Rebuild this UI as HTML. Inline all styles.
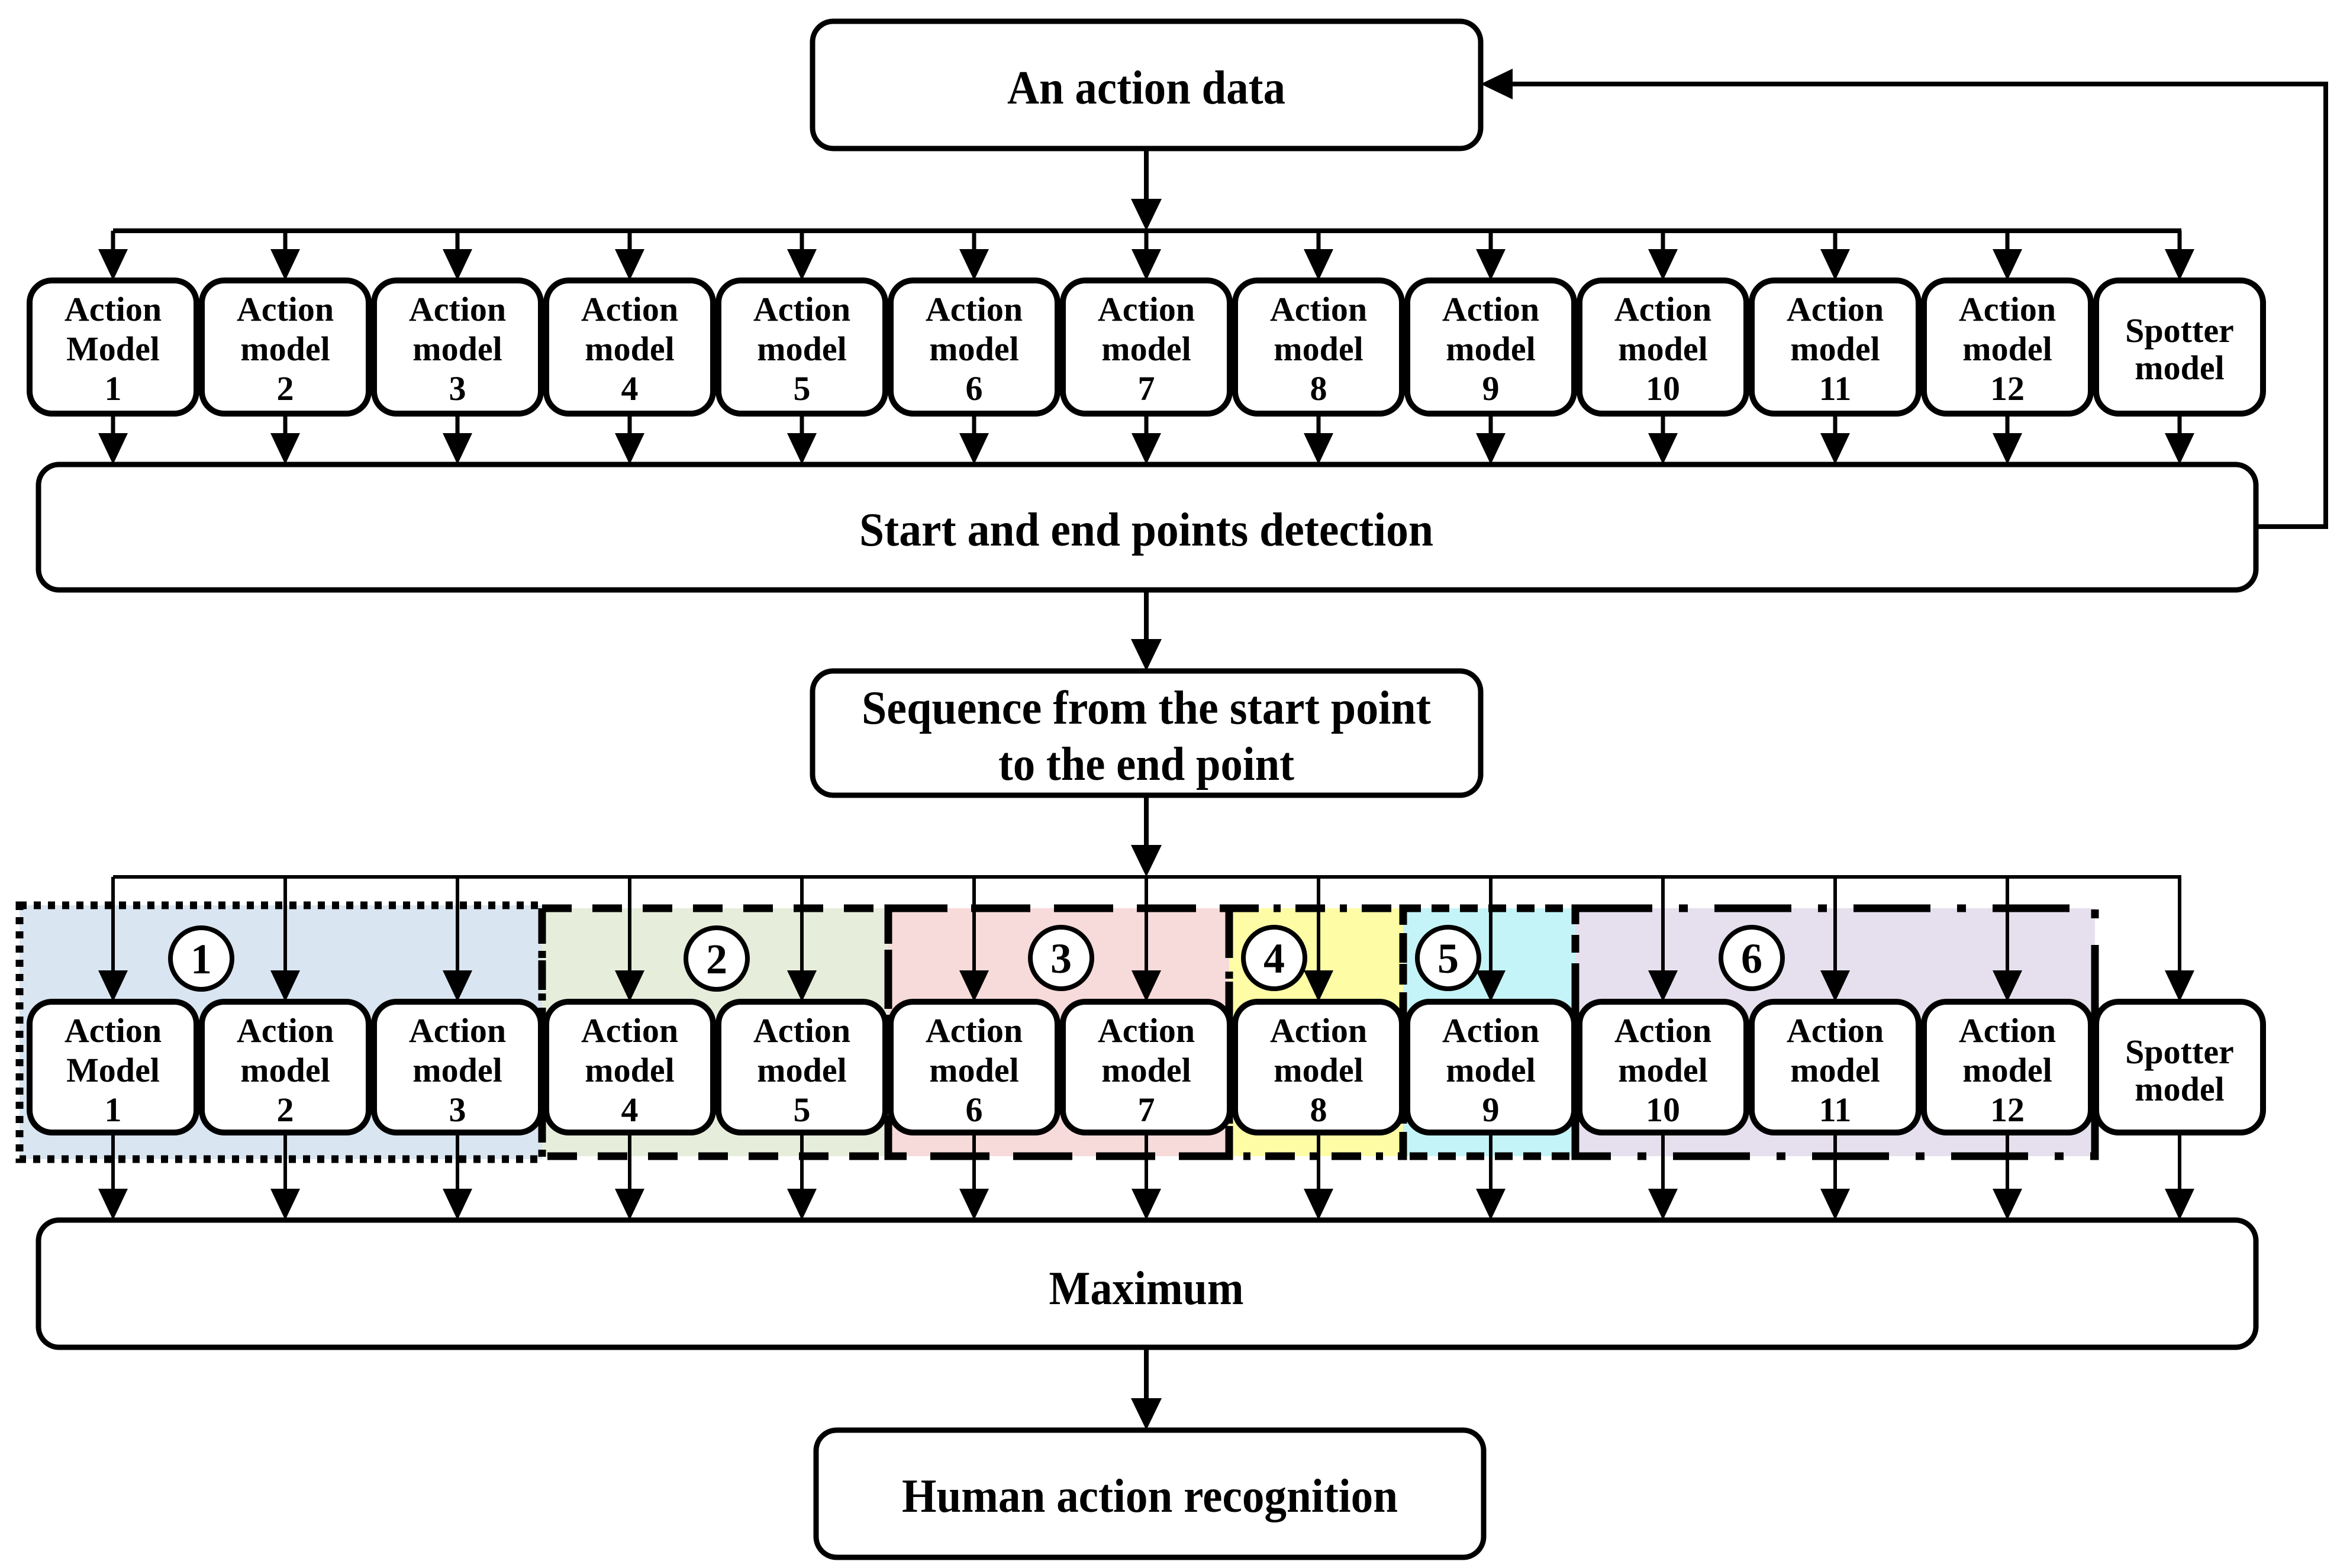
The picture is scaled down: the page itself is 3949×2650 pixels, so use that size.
<!DOCTYPE html>
<html><head><meta charset="utf-8"><style>
html,body{margin:0;padding:0;background:#fff;}
svg{display:block;}
text{font-family:"Liberation Serif",serif;font-weight:bold;fill:#000;}
</style></head><body>
<svg width="3949" height="2650" viewBox="0 0 3949 2650" xmlns="http://www.w3.org/2000/svg">
<!-- group backgrounds -->
<rect x="33" y="1530" width="883" height="429" fill="#d9e5f1"/>
<rect x="916" y="1535" width="585" height="419" fill="#e6eedb"/>
<rect x="1501" y="1535" width="576" height="419" fill="#f7dada"/>
<rect x="2077" y="1535" width="294" height="419" fill="#fefda6"/>
<rect x="2371" y="1535" width="291" height="419" fill="#c4f4f7"/>
<rect x="2662" y="1535" width="878" height="419" fill="#e6e0ee"/>
<g fill="none" stroke="#000" stroke-width="13">
<rect x="33" y="1530" width="883" height="429" stroke-dasharray="12 12"/>
<rect x="916" y="1535" width="585" height="419" stroke-dasharray="50 35"/>
<rect x="1501" y="1535" width="576" height="419" stroke-dasharray="100 40"/>
<rect x="2077" y="1535" width="294" height="419" stroke-dasharray="50 25 12 25"/>
<rect x="2371" y="1535" width="291" height="419" stroke-dasharray="30 18"/>
<rect x="2662" y="1535" width="878" height="419" stroke-dasharray="130 45 15 45"/>
</g>
<!-- connectors -->
<g stroke="#000" fill="none">
<path d="M1937 251 V340 M191 390 H3686 M1937 997 V1085 M1937 1344 V1430 M1937 2277 V2365" stroke-width="8"/>
<path d="M3812 890 H3930 V142 H2550" stroke-width="8"/>
<g stroke-width="7">
<path d="M191 390V430M482 390V430M773 390V430M1064 390V430M1355 390V430M1646 390V430M1937 390V430M2228 390V430M2519 390V430M2810 390V430M3101 390V430M3392 390V430M3683 390V430"/>
<path d="M191 699V740M482 699V740M773 699V740M1064 699V740M1355 699V740M1646 699V740M1937 699V740M2228 699V740M2519 699V740M2810 699V740M3101 699V740M3392 699V740M3683 699V740"/>
</g>
<g stroke-width="6">
<path d="M191 1482H3686"/>
<path d="M191 1482V1650M482 1482V1650M773 1482V1650M1064 1482V1650M1355 1482V1650M1646 1482V1650M1937 1482V1650M2228 1482V1650M2519 1482V1650M2810 1482V1650M3101 1482V1650M3392 1482V1650M3683 1482V1650"/>
<path d="M191 1914V2020M482 1914V2020M773 1914V2020M1064 1914V2020M1355 1914V2020M1646 1914V2020M1937 1914V2020M2228 1914V2020M2519 1914V2020M2810 1914V2020M3101 1914V2020M3392 1914V2020M3683 1914V2020"/>
</g>
</g>
<!-- arrowheads -->
<g fill="#000">
<polygon points="1937,390 1911,336 1963,336"/>
<polygon points="1937,1134 1911,1080 1963,1080"/>
<polygon points="1937,1482 1911,1428 1963,1428"/>
<polygon points="1937,2417 1911,2363 1963,2363"/>
<polygon points="2502,142 2556,116 2556,168"/>
<polygon points="191,474 166,421 216,421"/><polygon points="482,474 457,421 507,421"/><polygon points="773,474 748,421 798,421"/><polygon points="1064,474 1039,421 1089,421"/><polygon points="1355,474 1330,421 1380,421"/><polygon points="1646,474 1621,421 1671,421"/><polygon points="1937,474 1912,421 1962,421"/><polygon points="2228,474 2203,421 2253,421"/><polygon points="2519,474 2494,421 2544,421"/><polygon points="2810,474 2785,421 2835,421"/><polygon points="3101,474 3076,421 3126,421"/><polygon points="3392,474 3367,421 3417,421"/><polygon points="3683,474 3658,421 3708,421"/>
<polygon points="191,785 166,732 216,732"/><polygon points="482,785 457,732 507,732"/><polygon points="773,785 748,732 798,732"/><polygon points="1064,785 1039,732 1089,732"/><polygon points="1355,785 1330,732 1380,732"/><polygon points="1646,785 1621,732 1671,732"/><polygon points="1937,785 1912,732 1962,732"/><polygon points="2228,785 2203,732 2253,732"/><polygon points="2519,785 2494,732 2544,732"/><polygon points="2810,785 2785,732 2835,732"/><polygon points="3101,785 3076,732 3126,732"/><polygon points="3392,785 3367,732 3417,732"/><polygon points="3683,785 3658,732 3708,732"/>
<polygon points="191,1693 166,1640 216,1640"/><polygon points="482,1693 457,1640 507,1640"/><polygon points="773,1693 748,1640 798,1640"/><polygon points="1064,1693 1039,1640 1089,1640"/><polygon points="1355,1693 1330,1640 1380,1640"/><polygon points="1646,1693 1621,1640 1671,1640"/><polygon points="1937,1693 1912,1640 1962,1640"/><polygon points="2228,1693 2203,1640 2253,1640"/><polygon points="2519,1693 2494,1640 2544,1640"/><polygon points="2810,1693 2785,1640 2835,1640"/><polygon points="3101,1693 3076,1640 3126,1640"/><polygon points="3392,1693 3367,1640 3417,1640"/><polygon points="3683,1693 3658,1640 3708,1640"/>
<polygon points="191,2062 166,2009 216,2009"/><polygon points="482,2062 457,2009 507,2009"/><polygon points="773,2062 748,2009 798,2009"/><polygon points="1064,2062 1039,2009 1089,2009"/><polygon points="1355,2062 1330,2009 1380,2009"/><polygon points="1646,2062 1621,2009 1671,2009"/><polygon points="1937,2062 1912,2009 1962,2009"/><polygon points="2228,2062 2203,2009 2253,2009"/><polygon points="2519,2062 2494,2009 2544,2009"/><polygon points="2810,2062 2785,2009 2835,2009"/><polygon points="3101,2062 3076,2009 3126,2009"/><polygon points="3392,2062 3367,2009 3417,2009"/><polygon points="3683,2062 3658,2009 3708,2009"/>
</g>
<!-- big boxes -->
<g fill="#fff" stroke="#000" stroke-width="9">
<rect x="1373" y="36" width="1129" height="215" rx="35"/>
<rect x="65" y="785" width="3747" height="212" rx="35"/>
<rect x="1373" y="1134" width="1129" height="210" rx="35"/>
<rect x="65" y="2062" width="3747" height="215" rx="35"/>
<rect x="1379" y="2417" width="1128" height="215" rx="35"/>
</g>
<!-- small boxes -->
<g fill="#fff" stroke="#000" stroke-width="10">
<rect x="50" y="474" width="282" height="225" rx="38"/><rect x="341" y="474" width="282" height="225" rx="38"/><rect x="632" y="474" width="282" height="225" rx="38"/><rect x="923" y="474" width="282" height="225" rx="38"/><rect x="1214" y="474" width="282" height="225" rx="38"/><rect x="1505" y="474" width="282" height="225" rx="38"/><rect x="1796" y="474" width="282" height="225" rx="38"/><rect x="2087" y="474" width="282" height="225" rx="38"/><rect x="2378" y="474" width="282" height="225" rx="38"/><rect x="2669" y="474" width="282" height="225" rx="38"/><rect x="2960" y="474" width="282" height="225" rx="38"/><rect x="3251" y="474" width="282" height="225" rx="38"/><rect x="3542" y="474" width="282" height="225" rx="38"/>
<rect x="50" y="1693" width="282" height="221" rx="38"/><rect x="341" y="1693" width="282" height="221" rx="38"/><rect x="632" y="1693" width="282" height="221" rx="38"/><rect x="923" y="1693" width="282" height="221" rx="38"/><rect x="1214" y="1693" width="282" height="221" rx="38"/><rect x="1505" y="1693" width="282" height="221" rx="38"/><rect x="1796" y="1693" width="282" height="221" rx="38"/><rect x="2087" y="1693" width="282" height="221" rx="38"/><rect x="2378" y="1693" width="282" height="221" rx="38"/><rect x="2669" y="1693" width="282" height="221" rx="38"/><rect x="2960" y="1693" width="282" height="221" rx="38"/><rect x="3251" y="1693" width="282" height="221" rx="38"/><rect x="3542" y="1693" width="282" height="221" rx="38"/>
</g>
<!-- circles -->
<g fill="#fff" stroke="#000" stroke-width="8">
<circle cx="340" cy="1620" r="52"/><circle cx="1211" cy="1620" r="52"/><circle cx="1793" cy="1619" r="52"/><circle cx="2153" cy="1619" r="52"/><circle cx="2447" cy="1619" r="52"/><circle cx="2960" cy="1619" r="52"/>
</g>
<g font-size="72" text-anchor="middle">
<text x="340" y="1645">1</text><text x="1211" y="1645">2</text><text x="1793" y="1644">3</text><text x="2153" y="1644">4</text><text x="2447" y="1644">5</text><text x="2960" y="1644">6</text>
</g>
<!-- main labels -->
<g font-size="80" text-anchor="middle">
<text x="1937" y="175" textLength="470" lengthAdjust="spacingAndGlyphs">An action data</text>
<text x="1937" y="922" textLength="970" lengthAdjust="spacingAndGlyphs">Start and end points detection</text>
<text x="1937" y="1223" textLength="962" lengthAdjust="spacingAndGlyphs">Sequence from the start point</text>
<text x="1937" y="1318" textLength="500" lengthAdjust="spacingAndGlyphs">to the end point</text>
<text x="1937" y="2204" textLength="329" lengthAdjust="spacingAndGlyphs">Maximum</text>
<text x="1943" y="2555" textLength="838" lengthAdjust="spacingAndGlyphs">Human action recognition</text>
</g>
<!-- row 1 labels -->
<g font-size="58" text-anchor="middle">
<text x="191" y="542">Action</text><text x="191" y="609">Model</text><text x="191" y="676">1</text>
<text x="482" y="542">Action</text><text x="482" y="609">model</text><text x="482" y="676">2</text>
<text x="773" y="542">Action</text><text x="773" y="609">model</text><text x="773" y="676">3</text>
<text x="1064" y="542">Action</text><text x="1064" y="609">model</text><text x="1064" y="676">4</text>
<text x="1355" y="542">Action</text><text x="1355" y="609">model</text><text x="1355" y="676">5</text>
<text x="1646" y="542">Action</text><text x="1646" y="609">model</text><text x="1646" y="676">6</text>
<text x="1937" y="542">Action</text><text x="1937" y="609">model</text><text x="1937" y="676">7</text>
<text x="2228" y="542">Action</text><text x="2228" y="609">model</text><text x="2228" y="676">8</text>
<text x="2519" y="542">Action</text><text x="2519" y="609">model</text><text x="2519" y="676">9</text>
<text x="2810" y="542">Action</text><text x="2810" y="609">model</text><text x="2810" y="676">10</text>
<text x="3101" y="542">Action</text><text x="3101" y="609">model</text><text x="3101" y="676">11</text>
<text x="3392" y="542">Action</text><text x="3392" y="609">model</text><text x="3392" y="676">12</text>
<text x="3683" y="578">Spotter</text><text x="3683" y="641">model</text>
<!-- row 2 labels -->
<text x="191" y="1761">Action</text><text x="191" y="1828">Model</text><text x="191" y="1895">1</text>
<text x="482" y="1761">Action</text><text x="482" y="1828">model</text><text x="482" y="1895">2</text>
<text x="773" y="1761">Action</text><text x="773" y="1828">model</text><text x="773" y="1895">3</text>
<text x="1064" y="1761">Action</text><text x="1064" y="1828">model</text><text x="1064" y="1895">4</text>
<text x="1355" y="1761">Action</text><text x="1355" y="1828">model</text><text x="1355" y="1895">5</text>
<text x="1646" y="1761">Action</text><text x="1646" y="1828">model</text><text x="1646" y="1895">6</text>
<text x="1937" y="1761">Action</text><text x="1937" y="1828">model</text><text x="1937" y="1895">7</text>
<text x="2228" y="1761">Action</text><text x="2228" y="1828">model</text><text x="2228" y="1895">8</text>
<text x="2519" y="1761">Action</text><text x="2519" y="1828">model</text><text x="2519" y="1895">9</text>
<text x="2810" y="1761">Action</text><text x="2810" y="1828">model</text><text x="2810" y="1895">10</text>
<text x="3101" y="1761">Action</text><text x="3101" y="1828">model</text><text x="3101" y="1895">11</text>
<text x="3392" y="1761">Action</text><text x="3392" y="1828">model</text><text x="3392" y="1895">12</text>
<text x="3683" y="1797">Spotter</text><text x="3683" y="1860">model</text>
</g>
</svg>
</body></html>
